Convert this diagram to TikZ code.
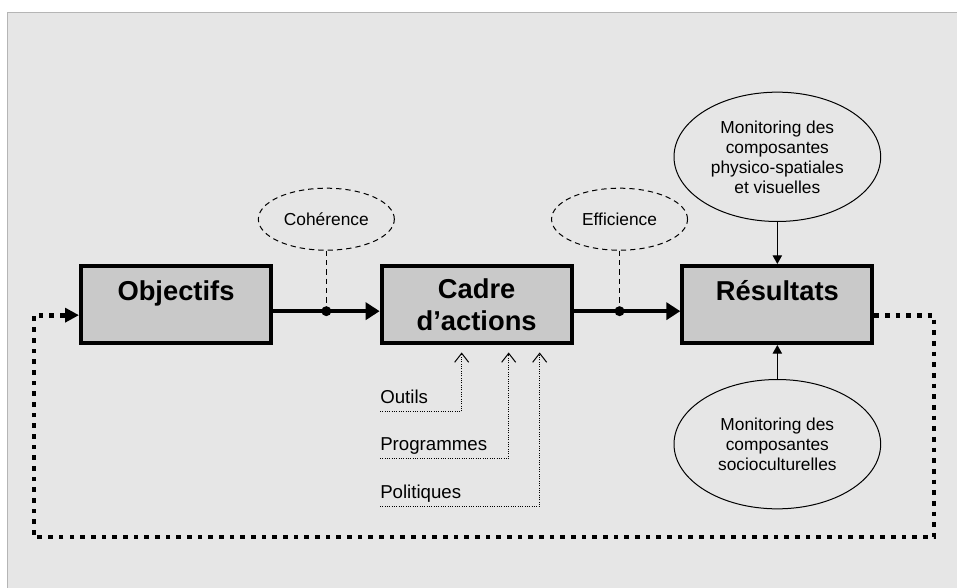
\documentclass[tikz,border=0pt]{standalone}
\usepackage{fontspec}
\setmainfont{Liberation Sans}
\usetikzlibrary{arrows.meta,positioning,shapes.geometric}
\definecolor{bgcol}{HTML}{E6E6E6}
\definecolor{boxcol}{HTML}{C9C9C9}
\definecolor{framecol}{HTML}{B5B5B5}

\begin{document}
\begin{tikzpicture}[x=0.75pt,y=-0.75pt,node distance=80pt,
  every node/.style={font=\fontsize{13}{15}\selectfont},
  blk/.style={draw,line width=3pt,fill=boxcol,minimum width=142.5pt,minimum height=57.75pt,align=center,font=\fontsize{20.5}{24}\selectfont\bfseries},
  lift/.style={text height=15pt,text depth=21pt},
  crit/.style={draw,dash pattern=on 4pt off 3pt,line width=.75pt,ellipse,minimum width=102pt,minimum height=46.5pt,inner sep=0pt},
  mon/.style={draw,line width=.75pt,ellipse,minimum width=155pt,minimum height=97pt,inner sep=0pt,align=center},
  dot/.style={circle,fill,inner sep=0pt,minimum size=7.5pt},
  lbl/.style={font=\fontsize{14}{16}\selectfont,anchor=base west,inner xsep=0pt,inner ysep=0pt,text depth=6pt},
  flow/.style={line width=3.2pt,-{Triangle[length=10.5pt,width=12.75pt]}},
  back/.style={line width=3.5pt,dash pattern=on 3.5pt off 4.5pt,-{Triangle[length=10.5pt,width=10.5pt]}},
  feed/.style={line width=.75pt,densely dotted,-{Straight Barb[length=6.75pt,width=10.5pt]}},
  mflow/.style={line width=.9pt,-{Triangle[length=6.5pt,width=7pt]}}]
\useasboundingbox (0,0) rectangle (957,588);
\draw[framecol,fill=bgcol,line width=1.2pt] (7.5,12.5) rectangle (975,605);
% the three blocks
\node[blk,lift] (obj) at (176,304.5) {Objectifs};
\node[blk,right=of obj] (cad) {Cadre\\d’actions};
\node[blk,lift,right=of cad] (res) {Résultats};
\draw[flow] ([yshift=-5pt]obj.east) -- node[dot] (d1) {} ([yshift=-5pt]cad.west);
\draw[flow] ([yshift=-5pt]cad.east) -- node[dot,pos=.43] (d2) {} ([yshift=-5pt]res.west);
\node[crit,above=40pt of d1] (coh) {Cohérence};
\node[crit,above=40pt of d2] (eff) {Efficience};
\draw[dash pattern=on 4pt off 3pt,line width=.75pt] (coh) -- (d1);
\draw[dash pattern=on 4pt off 3pt,line width=.75pt] (eff) -- (d2);
% monitoring
\node[mon,above=31.5pt of res] (mphy) {Monitoring des\\composantes\\physico-spatiales\\et visuelles};
\node[mon,below=25.5pt of res] (msoc) {Monitoring des\\composantes\\socioculturelles};
\draw[mflow] (mphy) -- (res);
\draw[mflow] (msoc) -- (res);
% inputs to the action frame
\foreach \n/\t/\y/\dx in {out/Outils/403/-11.25,pro/Programmes/450.5/24,pol/Politiques/498/47.25}{
  \node[lbl] (\n) at (380,\y) {\t};
  \draw[feed] (\n.south west) -| ([xshift=\dx pt,yshift=-5.6pt]cad.south);
}
% feedback loop
\coordinate (lpR) at (934,537);
\coordinate (lpL) at (34,537);
\draw[back] ([yshift=-8pt]res.east) -| (lpR) -- (lpL) |- ([yshift=-8pt]obj.west);
\end{tikzpicture}
\end{document}
